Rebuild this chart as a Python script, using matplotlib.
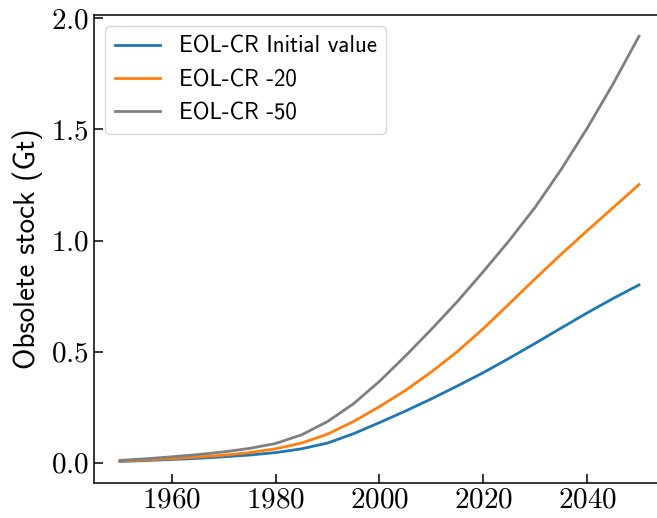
import matplotlib
matplotlib.use('Agg')
import matplotlib.pyplot as plt

plt.rcParams['font.family'] = 'cmr10'
plt.rcParams['mathtext.fontset'] = 'cm'
plt.rcParams['axes.formatter.use_mathtext'] = True

years = [1950, 1955, 1960, 1965, 1970, 1975, 1980, 1985, 1990, 1995, 2000,
         2005, 2010, 2015, 2020, 2025, 2030, 2035, 2040, 2045, 2050]

eol_initial = [0.005, 0.009, 0.014, 0.019, 0.026, 0.034, 0.045, 0.062, 0.088, 0.130, 0.180,
               0.232, 0.287, 0.345, 0.405, 0.470, 0.537, 0.606, 0.674, 0.739, 0.800]
eol_m20 = [0.007, 0.012, 0.018, 0.025, 0.033, 0.045, 0.062, 0.088, 0.128, 0.185, 0.252,
           0.325, 0.408, 0.500, 0.603, 0.715, 0.828, 0.938, 1.044, 1.148, 1.252]
eol_m50 = [0.010, 0.017, 0.026, 0.036, 0.048, 0.064, 0.086, 0.125, 0.185, 0.265, 0.366,
           0.480, 0.600, 0.725, 0.860, 1.000, 1.150, 1.320, 1.505, 1.705, 1.920]

labels = ['EOL-CR Initial value', 'EOL-CR -20', 'EOL-CR -50']

fig = plt.figure(figsize=(6.57, 5.18), dpi=100)
ax = fig.add_axes([0.1431, 0.0681, 0.869, 0.903])

ax.plot(years, eol_initial, color='#1f77b4', lw=2, label=labels[0])
ax.plot(years, eol_m20, color='#ff7f0e', lw=2, label=labels[1])
ax.plot(years, eol_m50, color='#7f7f7f', lw=2, label=labels[2])

ax.set_ylabel('Obsolete stock (Gt)', fontfamily='cmss10', fontsize=21, labelpad=6)
ax.set_xticks([1960, 1980, 2000, 2020, 2040])
ax.set_yticks([0.0, 0.5, 1.0, 1.5, 2.0])
ax.tick_params(direction='in', length=6.5, width=1.1, labelsize=21, top=False, right=False)
for s in ax.spines.values():
    s.set_linewidth(1.1)

ax.legend(loc='upper left', prop={'family': 'cmss10', 'size': 16.5})

fig.savefig('out.png', dpi=100)
